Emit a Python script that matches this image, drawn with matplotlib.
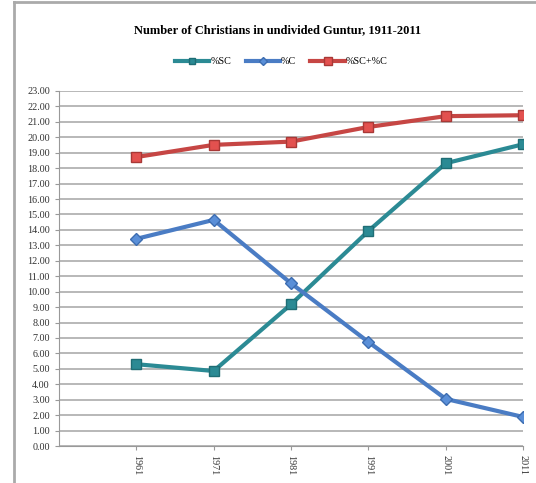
import numpy as np
import matplotlib.pyplot as plt
from matplotlib.lines import Line2D

# donnees
annees = ["1961", "1971", "1981", "1991", "2001", "2011"]
pct_sc = [5.30, 4.86, 9.18, 13.93, 18.32, 19.55]
pct_c = [13.42, 14.65, 10.54, 6.74, 3.05, 1.88]
pct_total = [18.72, 19.51, 19.72, 20.67, 21.37, 21.43]

plt.rcParams['font.family'] = ['Liberation Serif', 'DejaVu Serif']

fig = plt.figure(figsize=(5.36, 4.83), dpi=100)
ax = fig.add_axes([0.110, 0.0766, 0.866, 0.735])

x = np.arange(len(annees))
ax.plot(x, pct_sc, '-s', color='#2b8a94', lw=3, ms=6.5, mfc='#2b8a94', mec='#1f6d75', label='%SC', zorder=3)
ax.plot(x, pct_c, '-D', color='#4a7cc4', lw=3, ms=6, mfc='#5a8fd8', mec='#3c6cb0', label='%C', zorder=3)
ax.plot(x, pct_total, '-s', color='#c64644', lw=3, ms=7.5, mfc='#e3514f', mec='#a83836', label='%SC+%C', zorder=3)

ax.set_xlim(-1, 5)
ax.set_ylim(0, 23)
ax.set_yticks(np.arange(0, 24, 1))
ax.set_yticklabels(["%.2f" % v for v in np.arange(0, 24, 1)], fontsize=7.3, color='#333333')
ax.set_xticks(x)
ax.set_xticklabels(annees, rotation=270, fontsize=7.3, color='#333333')
ax.yaxis.grid(True, color='#b8b8b8', lw=1.4)
ax.set_axisbelow(True)
for s in ['top', 'right']:
    ax.spines[s].set_visible(False)
ax.spines['left'].set_color('#999999')
ax.spines['bottom'].set_color('#999999')
ax.tick_params(axis='both', color='#999999', length=3)

fig.text(0.518, 0.938, "Number of Christians in undivided Guntur, 1911-2011",
         ha='center', va='center', fontsize=9, fontweight='bold')
leg = fig.legend(loc='center', bbox_to_anchor=(0.525, 0.872), ncol=3, frameon=False,
                 fontsize=7.3, handlelength=3.4, columnspacing=1.4, handletextpad=0.1,
                 markerscale=0.75)

# cadre gris du graphique
fig.add_artist(Line2D([0.027, 0.027], [0.0, 0.996], color='#aaaaaa', lw=2, transform=fig.transFigure))
fig.add_artist(Line2D([0.027, 1.0], [0.996, 0.996], color='#aaaaaa', lw=2, transform=fig.transFigure))

plt.savefig("out.png", dpi=100)
